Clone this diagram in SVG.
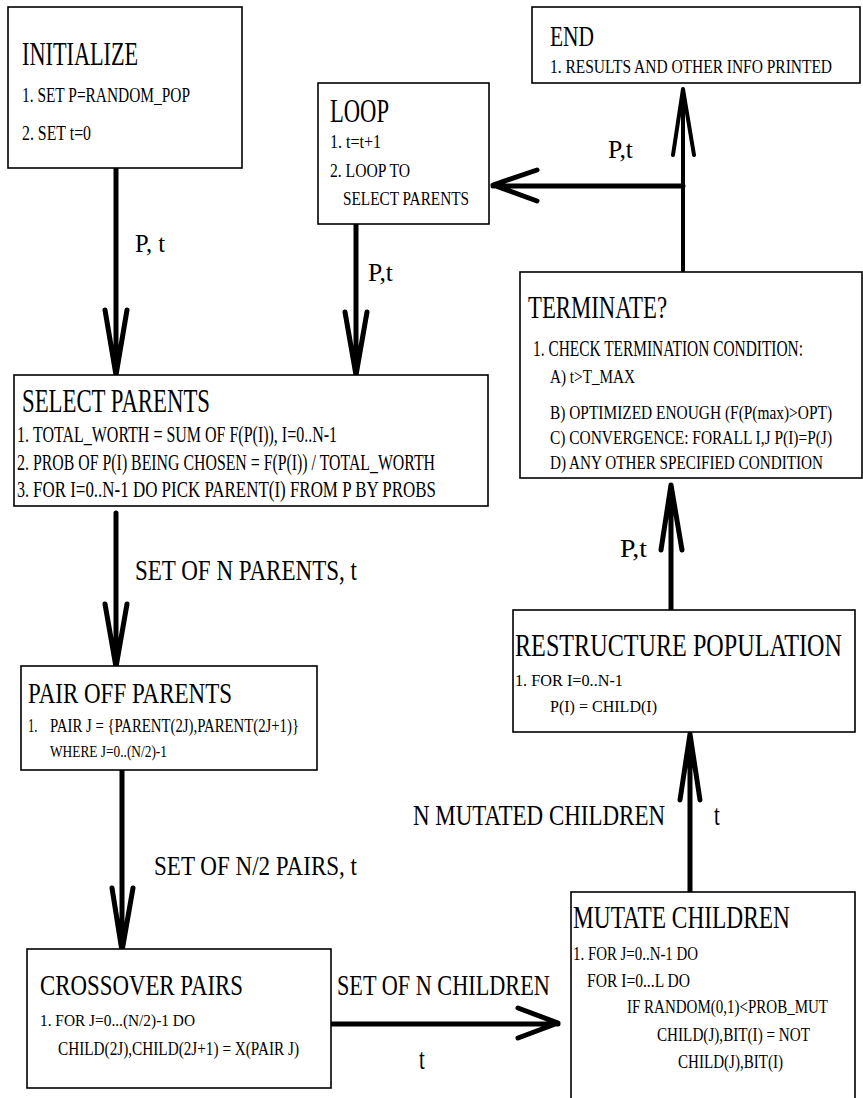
<svg xmlns="http://www.w3.org/2000/svg" width="863" height="1098" viewBox="0 0 863 1098">
<style>
.box{fill:#fff;stroke:#000;stroke-width:1.6}
text{font-family:"Times New Roman","Liberation Serif",Tinos,"Noto Serif","DejaVu Serif",serif;fill:#000}
.t33{font-size:33px}.t32{font-size:32px}.t30{font-size:30px}.t29{font-size:29px}.t28{font-size:28px}.t26{font-size:26px}
.t24{font-size:24px}.t23{font-size:23px}.t22{font-size:22px}.t20{font-size:20px}.t19{font-size:19px}.t18{font-size:18px}.t17{font-size:17px}
.ln{fill:none;stroke:#000;stroke-width:5;stroke-linecap:round;stroke-linejoin:round}
</style>
<rect width="863" height="1098" fill="#fff"/>
<g id="connectors">
  <path class="ln" d="M116 168V375M105 310L116 375L127 310"/>
  <path class="ln" d="M356 224V375M345 312L356 375L367 312"/>
  <path class="ln" d="M116 513V667M105 604L116 667L127 604"/>
  <path class="ln" d="M122 770V951M112 888L122 951L133 888"/>
  <path class="ln" d="M331 1024H558M518 1008L558 1023L518 1038"/>
  <path class="ln" d="M690 892V734M680 800L690 734L700 800"/>
  <path class="ln" d="M671 610V485M661 550L671 485L682 550"/>
  <path class="ln" style="stroke-width:4" d="M683 271V89M673 155L683 89L694 155"/>
  <path class="ln" d="M683 186H493M537 170L493 185L537 201"/>
  <text class="t26" transform="translate(135,252) scale(0.7,1)" textLength="42.9" lengthAdjust="spacingAndGlyphs">P, t</text>
  <text class="t26" transform="translate(368,281) scale(0.7,1)" textLength="35.7" lengthAdjust="spacingAndGlyphs">P,t</text>
  <text class="t26" transform="translate(608,158) scale(0.7,1)" textLength="35.7" lengthAdjust="spacingAndGlyphs">P,t</text>
  <text class="t26" transform="translate(620,557) scale(0.7,1)" textLength="38.6" lengthAdjust="spacingAndGlyphs">P,t</text>
  <text class="t30" transform="translate(135,580) scale(0.7,1)" textLength="317" lengthAdjust="spacingAndGlyphs">SET OF N PARENTS, t</text>
  <text class="t28" transform="translate(154,875) scale(0.7,1)" textLength="290" lengthAdjust="spacingAndGlyphs">SET OF N/2 PAIRS, t</text>
  <text class="t30" transform="translate(337,995) scale(0.7,1)" textLength="304" lengthAdjust="spacingAndGlyphs">SET OF N CHILDREN</text>
  <text class="t30" transform="translate(419,1069) scale(0.7,1)">t</text>
  <text class="t30" transform="translate(413,825) scale(0.7,1)" textLength="360" lengthAdjust="spacingAndGlyphs">N MUTATED CHILDREN</text>
  <text class="t30" transform="translate(714,825) scale(0.7,1)">t</text>
</g>
<g id="initialize">
  <rect class="box" x="8" y="7" width="234" height="161"/>
  <text class="t33" transform="translate(22,65) scale(0.7,1)" textLength="166" lengthAdjust="spacingAndGlyphs">INITIALIZE</text>
  <text class="t22" transform="translate(22,101.5) scale(0.7,1)" textLength="240" lengthAdjust="spacingAndGlyphs">1.  SET P=RANDOM_POP</text>
  <text class="t22" transform="translate(22,140) scale(0.7,1)" textLength="98.6" lengthAdjust="spacingAndGlyphs">2.  SET t=0</text>
</g>
<g id="loop">
  <rect class="box" x="318" y="83" width="171" height="141"/>
  <text class="t33" transform="translate(330,121.5) scale(0.7,1)" textLength="84.3" lengthAdjust="spacingAndGlyphs">LOOP</text>
  <text class="t18" transform="translate(330,148) scale(0.7,1)" textLength="72.9" lengthAdjust="spacingAndGlyphs">1.  t=t+1</text>
  <text class="t18" transform="translate(330,177) scale(0.7,1)" textLength="114.3" lengthAdjust="spacingAndGlyphs">2. LOOP TO</text>
  <text class="t18" transform="translate(343,205) scale(0.7,1)" textLength="180" lengthAdjust="spacingAndGlyphs">SELECT PARENTS</text>
</g>
<g id="end">
  <rect class="box" x="532" y="7" width="328" height="76"/>
  <text class="t29" transform="translate(550,45.5) scale(0.7,1)" textLength="62.9" lengthAdjust="spacingAndGlyphs">END</text>
  <text class="t19" transform="translate(550,73) scale(0.7,1)" textLength="402.9" lengthAdjust="spacingAndGlyphs">1.  RESULTS AND OTHER INFO PRINTED</text>
</g>
<g id="terminate">
  <rect class="box" x="520" y="272" width="342" height="206"/>
  <text class="t32" transform="translate(528,318) scale(0.7,1)" textLength="198.6" lengthAdjust="spacingAndGlyphs">TERMINATE?</text>
  <text class="t23" transform="translate(533,356) scale(0.7,1)" textLength="385.7" lengthAdjust="spacingAndGlyphs">1.  CHECK TERMINATION CONDITION:</text>
  <text class="t19" transform="translate(550,383) scale(0.7,1)" textLength="121.4" lengthAdjust="spacingAndGlyphs">A) t&gt;T_MAX</text>
  <text class="t19" transform="translate(550,418.5) scale(0.7,1)" textLength="402.9" lengthAdjust="spacingAndGlyphs">B)  OPTIMIZED ENOUGH (F(P(max)&gt;OPT)</text>
  <text class="t19" transform="translate(550,443.5) scale(0.7,1)" textLength="402.9" lengthAdjust="spacingAndGlyphs">C)  CONVERGENCE: FORALL I,J P(I)=P(J)</text>
  <text class="t19" transform="translate(550,468.5) scale(0.7,1)" textLength="390" lengthAdjust="spacingAndGlyphs">D) ANY OTHER SPECIFIED CONDITION</text>
</g>
<g id="select-parents">
  <rect class="box" x="14" y="375" width="474" height="131"/>
  <text class="t33" transform="translate(22,411.5) scale(0.7,1)" textLength="268.6" lengthAdjust="spacingAndGlyphs">SELECT PARENTS</text>
  <text class="t23" transform="translate(17,442) scale(0.7,1)">1.</text>
  <text class="t23" transform="translate(33,442) scale(0.7,1)" textLength="434.3" lengthAdjust="spacingAndGlyphs">TOTAL_WORTH = SUM OF F(P(I)), I=0..N-1</text>
  <text class="t23" transform="translate(17,470) scale(0.7,1)">2.</text>
  <text class="t23" transform="translate(33,470) scale(0.7,1)" textLength="574.3" lengthAdjust="spacingAndGlyphs">PROB OF P(I) BEING CHOSEN = F(P(I)) / TOTAL_WORTH</text>
  <text class="t23" transform="translate(17,497) scale(0.7,1)">3.</text>
  <text class="t23" transform="translate(33,497) scale(0.7,1)" textLength="575.7" lengthAdjust="spacingAndGlyphs">FOR I=0..N-1 DO PICK PARENT(I) FROM P BY PROBS</text>
</g>
<g id="pair-off-parents">
  <rect class="box" x="21" y="666" width="296" height="104"/>
  <text class="t29" transform="translate(28,703) scale(0.7,1)" textLength="291.4" lengthAdjust="spacingAndGlyphs">PAIR OFF PARENTS</text>
  <text class="t18" transform="translate(28,732) scale(0.7,1)">1.</text>
  <text class="t18" transform="translate(50,732) scale(0.7,1)" textLength="355.7" lengthAdjust="spacingAndGlyphs">PAIR J = {PARENT(2J),PARENT(2J+1)}</text>
  <text class="t17" transform="translate(50,757) scale(0.7,1)" textLength="167.1" lengthAdjust="spacingAndGlyphs">WHERE J=0..(N/2)-1</text>
</g>
<g id="crossover-pairs">
  <rect class="box" x="27" y="949" width="304" height="139"/>
  <text class="t29" transform="translate(40,995) scale(0.7,1)" textLength="290" lengthAdjust="spacingAndGlyphs">CROSSOVER PAIRS</text>
  <text class="t17" transform="translate(40,1025.5) scale(0.7,1)" textLength="221.4" lengthAdjust="spacingAndGlyphs">1.  FOR J=0...(N/2)-1 DO</text>
  <text class="t18" transform="translate(58,1055) scale(0.7,1)" textLength="344.3" lengthAdjust="spacingAndGlyphs">CHILD(2J),CHILD(2J+1) = X(PAIR J)</text>
</g>
<g id="mutate-children">
  <rect class="box" x="571" y="892" width="284" height="220"/>
  <text class="t32" transform="translate(573,928) scale(0.7,1)" textLength="310" lengthAdjust="spacingAndGlyphs">MUTATE CHILDREN</text>
  <text class="t19" transform="translate(573,960) scale(0.7,1)" textLength="178.6" lengthAdjust="spacingAndGlyphs">1.  FOR J=0..N-1 DO</text>
  <text class="t19" transform="translate(587,987) scale(0.7,1)" textLength="147.1" lengthAdjust="spacingAndGlyphs">FOR I=0...L DO</text>
  <text class="t19" transform="translate(627,1013) scale(0.7,1)" textLength="287.1" lengthAdjust="spacingAndGlyphs">IF RANDOM(0,1)&lt;PROB_MUT</text>
  <text class="t19" transform="translate(657,1041) scale(0.7,1)" textLength="218.6" lengthAdjust="spacingAndGlyphs">CHILD(J),BIT(I) = NOT</text>
  <text class="t19" transform="translate(678,1068) scale(0.7,1)" textLength="150" lengthAdjust="spacingAndGlyphs">CHILD(J),BIT(I)</text>
</g>
<g id="restructure-population">
  <rect class="box" x="513" y="610" width="342" height="122"/>
  <text class="t32" transform="translate(515,656) scale(0.7,1)" textLength="467.1" lengthAdjust="spacingAndGlyphs">RESTRUCTURE POPULATION</text>
  <text class="t17" transform="translate(515,686) scale(0.7,1)" textLength="154.3" lengthAdjust="spacingAndGlyphs">1.  FOR I=0..N-1</text>
  <text class="t17" transform="translate(550,712) scale(0.7,1)" textLength="152.9" lengthAdjust="spacingAndGlyphs">P(I) = CHILD(I)</text>
</g>
</svg>
